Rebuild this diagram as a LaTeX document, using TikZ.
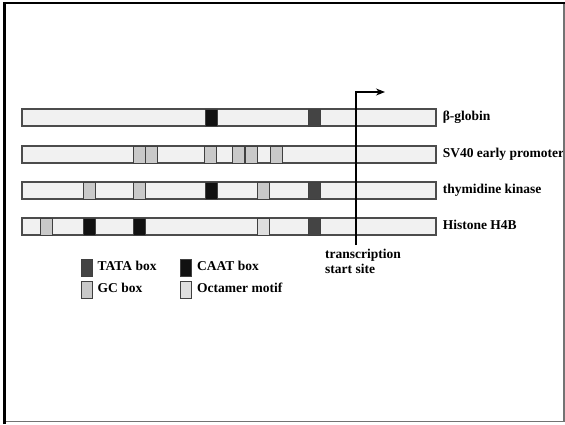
\documentclass[tikz,border=0pt]{standalone}
\usepackage{fontspec}
\setmainfont{Liberation Serif}
\usepackage{tikz}
\usetikzlibrary{arrows.meta, positioning}

\definecolor{bargrey}{HTML}{F1F1F1}
\definecolor{tata}{HTML}{444444}
\definecolor{caat}{HTML}{111111}
\definecolor{gcbox}{HTML}{C9C9C9}
\definecolor{octa}{HTML}{DEDEDE}

\tikzstyle{bar}   = [draw=black!70, line width=1.2pt, fill=bargrey, inner sep=0pt,
                     minimum width=414pt, minimum height=17pt]
\tikzstyle{motif} = [draw=black!75, line width=1pt, inner sep=0pt,
                     minimum width=12pt, minimum height=17pt]
\tikzstyle{swatch}= [draw=black!75, line width=1pt, inner sep=0pt,
                     minimum width=11pt, minimum height=17pt]
\tikzstyle{lbl}   = [font=\fontsize{13.5}{14.5}\selectfont\bfseries, inner sep=0pt,
                     text height=9.5pt, text depth=3pt]
\tikzstyle{arrow} = [line width=1.1pt, -{Stealth[length=9pt, width=7pt]}]

\begin{document}
\begin{tikzpicture}[x=1pt, y=-1pt]
  \useasboundingbox (0,0) rectangle (565,424);
  \fill[white] (0,0) rectangle (565,424);

  % --- Promoter bars ---
  \node[bar] (b1) at (229,117.5) {};
  \node[bar] (b2) at (229,154.5) {};
  \node[bar] (b3) at (229,190.5) {};
  \node[bar] (b4) at (229,226.5) {};

  % Motifs
  \foreach \x/\c in {211/caat, 314/tata}
    \node[motif, fill=\c] (m1-\x) at (\x,117.5) {};
  \foreach \x/\c in {139/gcbox, 151.5/gcbox, 210.5/gcbox, 238/gcbox, 251/gcbox, 276/gcbox}
    \node[motif, fill=\c] (m2-\x) at (\x,154.5) {};
  \foreach \x/\c in {89/gcbox, 139/gcbox, 211/caat, 263/gcbox, 314/tata}
    \node[motif, fill=\c] (m3-\x) at (\x,190.5) {};
  \foreach \x/\c in {46/gcbox, 89/caat, 139/caat, 263/octa, 314/tata}
    \node[motif, fill=\c] (m4-\x) at (\x,226.5) {};

  % Gene names
  \node[lbl, right=6pt of b1] (n1) {β-globin};
  \node[lbl, right=6pt of b2] (n2) {SV40 early promoter};
  \node[lbl, right=6pt of b3] (n3) {thymidine kinase};
  \node[lbl, right=6pt of b4] (n4) {Histone H4B};

  % --- Transcription start site ---
  \coordinate (tssbot) at (356,245);
  \coordinate (tsstip) at (385,92);
  \draw[arrow] (tssbot) |- (tsstip);
  \node[font=\fontsize{13.5}{14.5}\selectfont\bfseries, inner sep=0pt,
        anchor=north west, align=left] (tss) at (325,249)
       {transcription\\start site};

  % --- Legend ---
  \node[swatch, fill=tata]  (k1) at (86.5,267.5) {};
  \node[swatch, fill=caat]  (k2) at (186,267.5) {};
  \node[swatch, fill=gcbox] (k3) at (86.5,289.5) {};
  \node[swatch, fill=octa]  (k4) at (186,289.5) {};
  \node[lbl, right=5pt of k1] {TATA box};
  \node[lbl, right=5pt of k2] {CAAT box};
  \node[lbl, right=5pt of k3] {GC box};
  \node[lbl, right=5pt of k4] {Octamer motif};

  % Frame
  \draw[black!55, line width=1.5pt] (564,3) -- (564,421.5) -- (4,421.5);
  \draw[black, line width=2.5pt] (4.5,424) -- (4.5,3) -- (565,3);
\end{tikzpicture}
\end{document}
